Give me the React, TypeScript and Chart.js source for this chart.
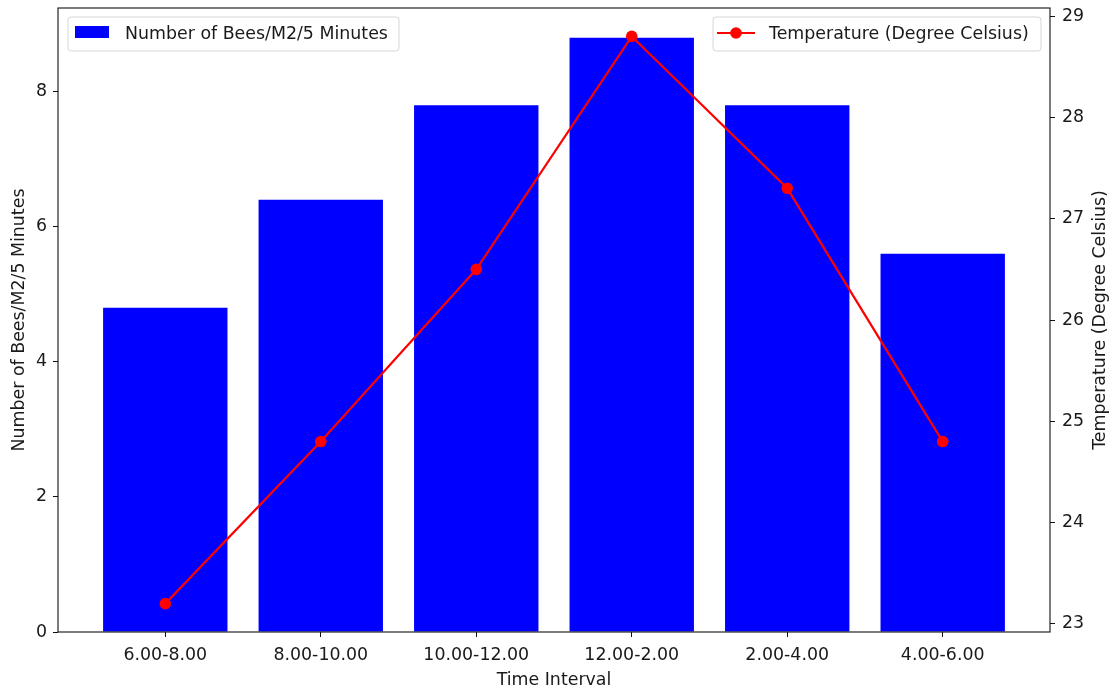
import React, { useEffect, useRef } from "react";
import { Chart, registerables } from "chart.js";

Chart.register(...registerables);

const categories = ["6.00-8.00", "8.00-10.00", "10.00-12.00", "12.00-2.00", "2.00-4.00", "4.00-6.00"];
const bees = [4.8, 6.4, 7.8, 8.8, 7.8, 5.6];
const temperature = [23.2, 24.8, 26.5, 28.8, 27.3, 24.8];
const leftTicks = [0, 2, 4, 6, 8];
const rightTicks = [23, 24, 25, 26, 27, 28, 29];

const beesLabel = "Number of Bees/M2/5 Minutes";
const tempLabel = "Temperature (Degree Celsius)";
const xTitle = "Time Interval";

const FONT = "DejaVu Sans";
const FS = 17.4;
const TXT = "#1a1a1a";

const decorPlugin = {
  id: "decor",
  afterDraw(chart: any) {
    const { ctx, chartArea } = chart;
    const { left, right, top, bottom } = chartArea;
    ctx.save();
    ctx.strokeStyle = "#111";
    ctx.lineWidth = 1.1;
    ctx.strokeRect(left, top, right - left, bottom - top);

    ctx.fillStyle = TXT;
    ctx.font = `${FS}px "${FONT}"`;
    ctx.textAlign = "center";
    ctx.textBaseline = "middle";
    const cy = (top + bottom) / 2;
    ctx.save();
    ctx.translate(19, cy);
    ctx.rotate(-Math.PI / 2);
    ctx.fillText(beesLabel, 0, 0);
    ctx.restore();
    ctx.save();
    ctx.translate(1100, cy);
    ctx.rotate(-Math.PI / 2);
    ctx.fillText(tempLabel, 0, 0);
    ctx.restore();
    ctx.fillText(xTitle, (left + right) / 2, 680);

    const drawBox = (x0: number, y0: number, x1: number, y1: number) => {
      ctx.beginPath();
      const r = 3;
      ctx.moveTo(x0 + r, y0);
      ctx.lineTo(x1 - r, y0);
      ctx.quadraticCurveTo(x1, y0, x1, y0 + r);
      ctx.lineTo(x1, y1 - r);
      ctx.quadraticCurveTo(x1, y1, x1 - r, y1);
      ctx.lineTo(x0 + r, y1);
      ctx.quadraticCurveTo(x0, y1, x0, y1 - r);
      ctx.lineTo(x0, y0 + r);
      ctx.quadraticCurveTo(x0, y0, x0 + r, y0);
      ctx.closePath();
      ctx.fillStyle = "rgba(255,255,255,0.8)";
      ctx.fill();
      ctx.strokeStyle = "#d6d6d6";
      ctx.lineWidth = 1;
      ctx.stroke();
    };
    drawBox(68, 17, 399, 51);
    ctx.fillStyle = "#0000ff";
    ctx.fillRect(75, 26, 34, 12);
    ctx.fillStyle = TXT;
    ctx.textAlign = "left";
    ctx.fillText(beesLabel, 125, 34);

    drawBox(713, 17, 1041, 51);
    ctx.strokeStyle = "#ff0000";
    ctx.lineWidth = 2.2;
    ctx.beginPath();
    ctx.moveTo(717, 33);
    ctx.lineTo(755, 33);
    ctx.stroke();
    ctx.fillStyle = "#ff0000";
    ctx.beginPath();
    ctx.arc(736, 33, 5.8, 0, Math.PI * 2);
    ctx.fill();
    ctx.fillStyle = TXT;
    ctx.fillText(tempLabel, 769, 34);
    ctx.restore();
  },
};

export default function App() {
  const ref = useRef<HTMLCanvasElement | null>(null);
  useEffect(() => {
    if (!ref.current) return;
    const tickFont = { family: FONT, size: FS };
    const vFit = (w: number) => (s: any) => {
      s.width = w;
      s.paddingTop = 0;
      s.paddingBottom = 0;
    };
    const chart = new Chart(ref.current, {
      data: {
        datasets: [
          {
            type: "line" as const,
            label: tempLabel,
            data: temperature.map((v, i) => ({ x: i, y: v })),
            borderColor: "#ff0000",
            backgroundColor: "#ff0000",
            borderWidth: 2.2,
            pointRadius: 5.8,
            pointBorderWidth: 0,
            yAxisID: "y1",
            order: 0,
          },
          {
            type: "bar" as const,
            label: beesLabel,
            data: bees.map((v, i) => ({ x: i, y: v })),
            backgroundColor: "#0000ff",
            borderWidth: 0,
            barPercentage: 0.8,
            categoryPercentage: 1,
            yAxisID: "y",
            order: 1,
          },
        ],
      },
      options: {
        responsive: false,
        animation: false,
        layout: { padding: { top: 8, left: 0, right: 0, bottom: 0 } },
        plugins: { legend: { display: false }, tooltip: { enabled: false } },
        scales: {
          x: {
            type: "linear",
            min: -0.69,
            max: 5.69,
            offset: false,
            afterBuildTicks: (s: any) => {
              s.ticks = categories.map((_, i) => ({ value: i }));
            },
            afterFit: (s: any) => {
              s.height = 63;
              s.paddingLeft = 0;
              s.paddingRight = 0;
            },
            ticks: {
              autoSkip: false,
              maxRotation: 0,
              font: tickFont,
              color: TXT,
              padding: 8,
              callback: (v: any) => categories[Math.round(Number(v))] ?? "",
            },
            grid: { offset: false, drawOnChartArea: false, drawTicks: true, tickLength: 5, color: "#111", lineWidth: 1 },
            border: { display: false },
          },
          y: {
            type: "linear",
            position: "left",
            min: 0,
            max: 9.24,
            afterBuildTicks: (s: any) => {
              s.ticks = leftTicks.map((v) => ({ value: v }));
            },
            afterFit: vFit(58),
            ticks: { font: tickFont, color: TXT, padding: 6 },
            grid: { drawOnChartArea: false, drawTicks: true, tickLength: 5, color: "#111", lineWidth: 1 },
            border: { display: false },
          },
          y1: {
            type: "linear",
            position: "right",
            min: 22.92,
            max: 29.08,
            afterBuildTicks: (s: any) => {
              s.ticks = rightTicks.map((v) => ({ value: v }));
            },
            afterFit: vFit(63),
            ticks: { font: tickFont, color: TXT, padding: 7 },
            grid: { drawOnChartArea: false, drawTicks: true, tickLength: 5, color: "#111", lineWidth: 1 },
            border: { display: false },
          },
        },
      },
      plugins: [decorPlugin],
    } as any);
    return () => chart.destroy();
  }, []);
  return (
    <div style={{ position: "absolute", left: 0, top: 0, width: 1113, height: 695, background: "#fff" }}>
      <canvas ref={ref} width={1113} height={695} style={{ width: 1113, height: 695 }} />
    </div>
  );
}
